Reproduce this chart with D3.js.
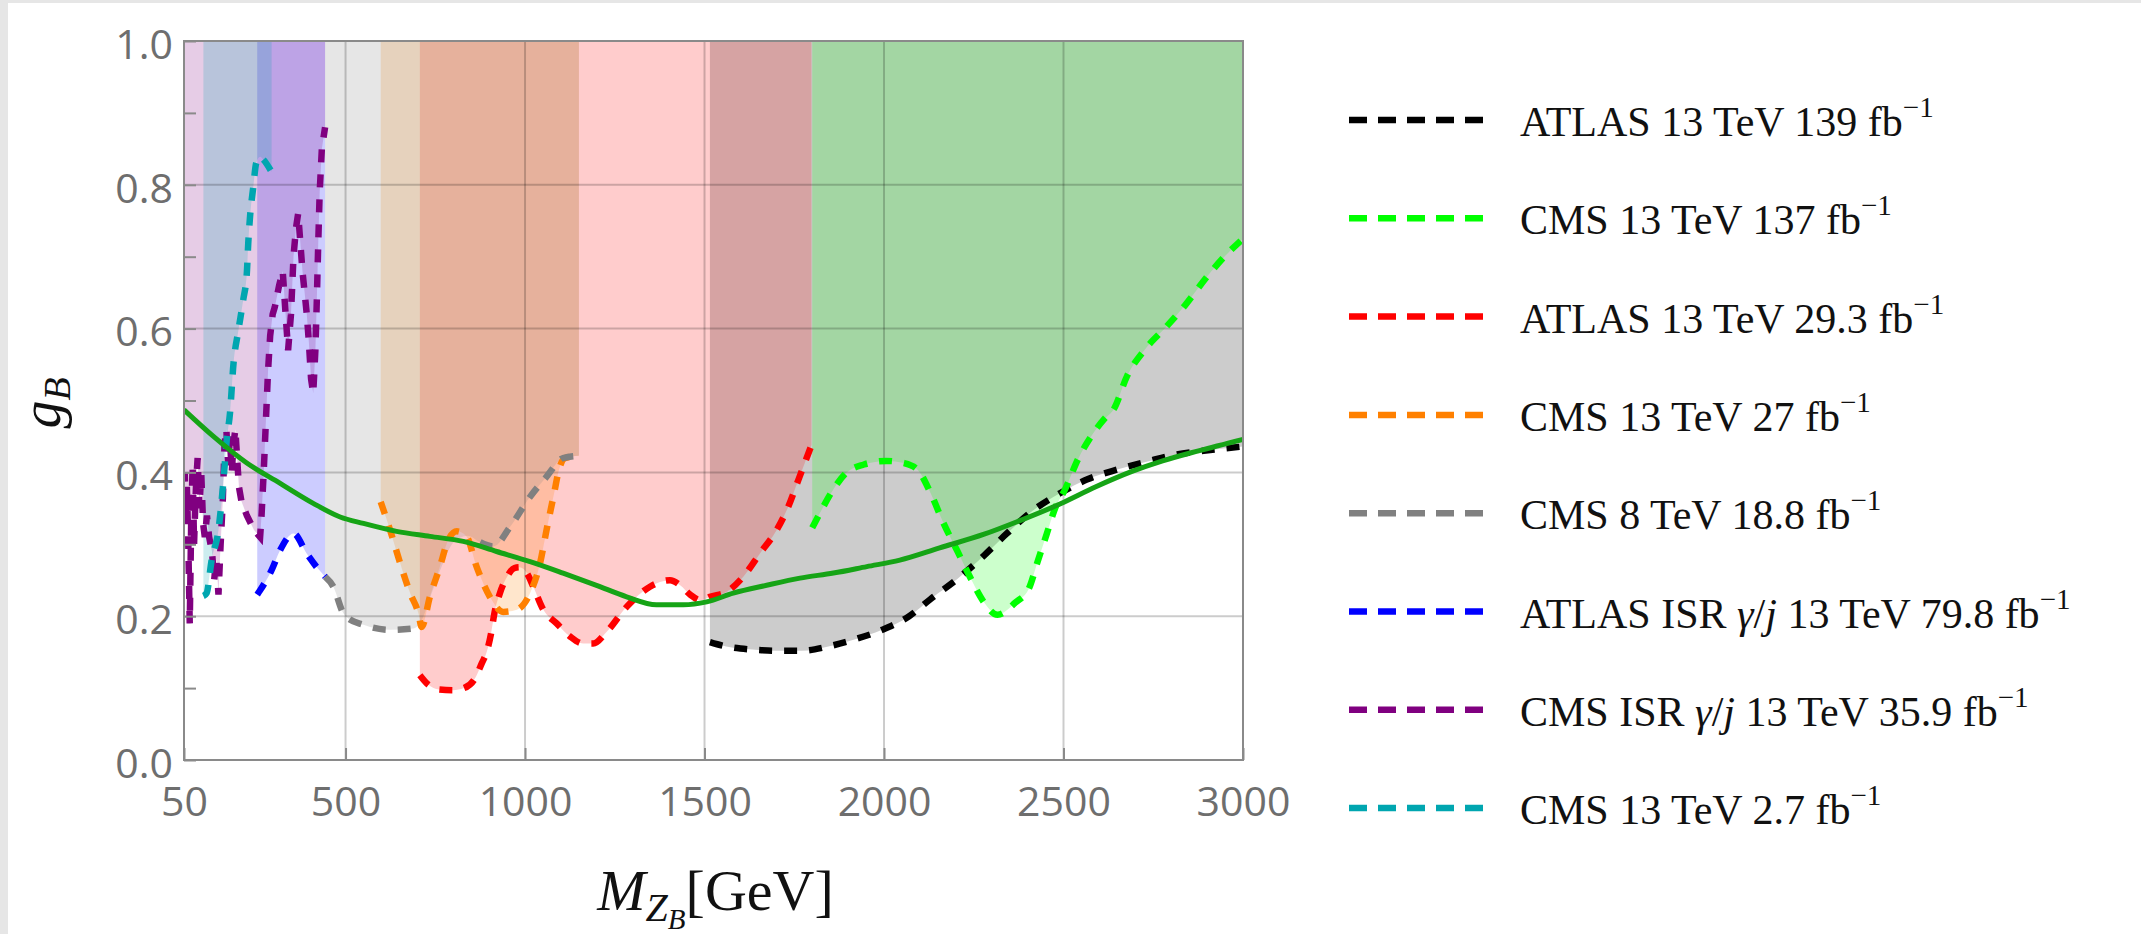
<!DOCTYPE html>
<html>
<head>
<meta charset="utf-8">
<script src="https://cdn.jsdelivr.net/npm/d3@7"></script>
<style>
  html, body { margin: 0; padding: 0; background: #ffffff; }
  svg { display: block; }
</style>
</head>
<body>
<svg id="chart" width="2141" height="934"></svg>
<script>
// ---- axis ticks ----
const massTicks = [50, 500, 1000, 1500, 2000, 2500, 3000];
const massGrid = [500, 1000, 1500, 2000, 2500];
const couplingTicks = [0.0, 0.2, 0.4, 0.6, 0.8, 1.0];
const couplingGrid = [0.2, 0.4, 0.6, 0.8];
const couplingMinorTicks = [0.1, 0.3, 0.5, 0.7, 0.9];

// ---- exclusion limits: mass M_ZB [GeV] and coupling g_B ----
const atlas139Mass = [1515, 1560, 1600, 1650, 1700, 1770, 1845, 1920, 1995, 2070, 2130, 2205, 2280, 2340, 2415, 2490, 2565, 2650, 2740, 2815, 2890, 3000];
const atlas139G    = [0.164, 0.158, 0.155, 0.153, 0.152, 0.152, 0.158, 0.168, 0.181, 0.200, 0.224, 0.252, 0.285, 0.314, 0.347, 0.371, 0.390, 0.404, 0.416, 0.425, 0.430, 0.436];

const cms137Mass = [1800, 1820, 1857, 1894, 1944, 2006, 2056, 2093, 2130, 2167, 2205, 2242, 2279, 2316, 2366, 2403, 2428, 2453, 2478, 2503, 2540, 2578, 2615, 2640, 2677, 2727, 2789, 2838, 2901, 2950, 3000];
const cms137G    = [0.323, 0.342, 0.375, 0.399, 0.411, 0.416, 0.413, 0.404, 0.371, 0.328, 0.290, 0.252, 0.219, 0.202, 0.219, 0.238, 0.276, 0.314, 0.352, 0.375, 0.418, 0.451, 0.475, 0.488, 0.534, 0.571, 0.604, 0.632, 0.673, 0.701, 0.725];

const atlas29Mass = [707, 730, 760, 800, 830, 860, 880, 893, 905, 915, 930, 950, 970, 985, 1005, 1023, 1051, 1088, 1125, 1162, 1190, 1227, 1283, 1348, 1404, 1432, 1460, 1490, 1515, 1562, 1608, 1654, 1701, 1733, 1761, 1798];
const atlas29G    = [0.118, 0.105, 0.098, 0.097, 0.100, 0.113, 0.135, 0.150, 0.175, 0.205, 0.232, 0.255, 0.267, 0.268, 0.260, 0.241, 0.209, 0.190, 0.172, 0.162, 0.162, 0.178, 0.213, 0.241, 0.250, 0.243, 0.230, 0.222, 0.227, 0.234, 0.255, 0.287, 0.320, 0.352, 0.389, 0.438];

const cms27Mass = [598, 624, 652, 680, 703, 712, 735, 763, 786, 810, 837, 865, 902, 939, 977, 1014, 1042, 1060, 1079, 1097, 1111, 1150];
const cms27G    = [0.359, 0.320, 0.274, 0.232, 0.204, 0.185, 0.227, 0.269, 0.306, 0.318, 0.311, 0.269, 0.227, 0.206, 0.209, 0.232, 0.274, 0.320, 0.366, 0.408, 0.420, 0.423];

const cms8Mass = [443, 466, 494, 503, 550, 624, 689, 707, 740, 770, 800, 840, 875, 912, 958, 1014, 1060, 1106, 1150];
const cms8G    = [0.255, 0.241, 0.204, 0.199, 0.188, 0.181, 0.183, 0.190, 0.232, 0.272, 0.302, 0.312, 0.303, 0.297, 0.324, 0.366, 0.394, 0.420, 0.423];
// stretch of the 8 TeV limit that runs underneath the 13 TeV 27 fb^-1 curve is not stroked
const cms8Stroked  = [true, true, true, true, true, true, true, true, false, false, false, false, true, true, true, true, true, true, true];

const atlasIsrMass = [254, 262, 294, 318, 355, 392, 420, 443];
const atlasIsrG    = [0.230, 0.236, 0.264, 0.292, 0.315, 0.287, 0.268, 0.255];

const cmsIsrMass = [50, 52, 55, 58, 62, 66, 70, 74, 78, 83, 88, 93, 98, 103, 108, 114, 120, 128, 134, 140, 146, 152, 158, 163, 168, 173, 178, 183, 188, 193, 198, 203, 210, 225, 245, 262,
                    266, 272, 278, 284, 290, 297, 303, 315, 325, 333, 340, 348, 355, 362, 368, 374, 380, 386, 392, 398, 404, 410, 416, 420, 424, 428, 434, 443];
const cmsIsrG    = [0.36, 0.40, 0.34, 0.38, 0.30, 0.19, 0.33, 0.41, 0.30, 0.38, 0.42, 0.35, 0.40, 0.33, 0.31, 0.34, 0.31, 0.29, 0.25, 0.28, 0.23, 0.30, 0.36, 0.44, 0.46, 0.41, 0.45, 0.40, 0.44, 0.46, 0.42, 0.38, 0.36, 0.34, 0.32, 0.31,
                    0.34, 0.40, 0.47, 0.54, 0.59, 0.62, 0.63, 0.66, 0.68, 0.62, 0.57, 0.62, 0.70, 0.74, 0.76, 0.72, 0.68, 0.65, 0.62, 0.58, 0.53, 0.51, 0.57, 0.64, 0.72, 0.79, 0.85, 0.88];

const cms27fbMass = [104, 113, 127, 146, 160, 169, 178, 188, 201, 215, 225, 229, 234, 243, 251, 262, 271, 294];
const cms27fbG    = [0.228, 0.232, 0.278, 0.320, 0.389, 0.445, 0.482, 0.552, 0.596, 0.640, 0.677, 0.719, 0.756, 0.797, 0.830, 0.839, 0.835, 0.818];

// theory curve (solid)
const theoryMass = [50, 132, 225, 317, 410, 485, 550, 642, 735, 828, 921, 1014, 1106, 1199, 1283, 1366, 1441, 1506, 1580, 1673, 1766, 1859, 1952, 2044, 2155, 2279, 2379, 2490, 2590, 2689, 2776, 2876, 3000];
const theoryG    = [0.487, 0.450, 0.413, 0.385, 0.357, 0.338, 0.329, 0.318, 0.311, 0.304, 0.290, 0.276, 0.260, 0.243, 0.227, 0.216, 0.216, 0.220, 0.232, 0.243, 0.253, 0.260, 0.269, 0.278, 0.295, 0.314, 0.333, 0.356, 0.380, 0.401, 0.416, 0.430, 0.446];

// ---- legend ----
const legendNames = [
  "ATLAS 13 TeV 139 fb",
  "CMS 13 TeV 137 fb",
  "ATLAS 13 TeV 29.3 fb",
  "CMS 13 TeV 27 fb",
  "CMS 8 TeV 18.8 fb",
  "ATLAS ISR \u03B3/j 13 TeV 79.8 fb",
  "CMS ISR \u03B3/j 13 TeV 35.9 fb",
  "CMS 13 TeV 2.7 fb"
];
const seriesColors = ["#000000", "#00ff00", "#ff0000", "#ff8000", "#808080", "#0000ff", "#800080", "#00a6b0"];

const seriesMass = [atlas139Mass, cms137Mass, atlas29Mass, cms27Mass, cms8Mass, atlasIsrMass, cmsIsrMass, cms27fbMass];
const seriesG    = [atlas139G, cms137G, atlas29G, cms27G, cms8G, atlasIsrG, cmsIsrG, cms27fbG];
const seriesStroked = [null, null, null, null, cms8Stroked, null, null, null];
const jagged     = [false, false, false, false, false, false, true, false];

const series = legendNames.map((name, i) => ({
  name,
  color: seriesColors[i],
  points: seriesMass[i].map((m, k) => [m, seriesG[i][k], seriesStroked[i] ? seriesStroked[i][k] : true]),
  curve: jagged[i] ? d3.curveLinear : d3.curveMonotoneX
}));

// ---- layout ----
const svg = d3.select("#chart");
const plot = { left: 184, right: 1243, top: 41, bottom: 760 };

const x = d3.scaleLinear().domain([50, 3000]).range([plot.left, plot.right]);
const y = d3.scaleLinear().domain([0, 1]).range([plot.bottom, plot.top]);

// page edge strips
svg.append("rect").attr("x", 0).attr("y", 0).attr("width", 2141).attr("height", 3).attr("fill", "#e6e6e6");
svg.append("rect").attr("x", 0).attr("y", 0).attr("width", 8).attr("height", 934).attr("fill", "#e6e6e6");

svg.append("defs").append("clipPath").attr("id", "plotClip")
  .append("rect")
  .attr("x", plot.left).attr("y", plot.top)
  .attr("width", plot.right - plot.left).attr("height", plot.bottom - plot.top);

const inner = svg.append("g").attr("clip-path", "url(#plotClip)");

// excluded regions: from each limit up to the top of the frame
const fills = inner.append("g");
series.forEach(s => {
  const area = d3.area()
    .x(d => x(d[0]))
    .y0(y(1))
    .y1(d => y(d[1]))
    .curve(s.curve);
  fills.append("path")
    .attr("d", area(s.points))
    .attr("fill", s.color)
    .attr("fill-opacity", 0.2);
});

// grid
const grid = inner.append("g").attr("stroke", "rgba(0,0,0,0.2)").attr("stroke-width", 2);
massGrid.forEach(m => grid.append("line")
  .attr("x1", x(m)).attr("x2", x(m)).attr("y1", plot.top).attr("y2", plot.bottom));
couplingGrid.forEach(g => grid.append("line")
  .attr("x1", plot.left).attr("x2", plot.right).attr("y1", y(g)).attr("y2", y(g)));

// limit curves
const lines = inner.append("g").attr("fill", "none");
series.forEach(s => {
  const line = d3.line()
    .defined((d, i, arr) => d[2] || (arr[i - 1] && arr[i - 1][2] && false))
    .x(d => x(d[0])).y(d => y(d[1])).curve(s.curve);
  lines.append("path")
    .attr("d", line(s.points))
    .attr("stroke", s.color)
    .attr("stroke-width", 6.5)
    .attr("stroke-dasharray", "13,12");
});

// theory curve
const theoryLine = d3.line().x(d => x(d[0])).y(d => y(d[1])).curve(d3.curveMonotoneX);
inner.append("path")
  .attr("d", theoryLine(theoryMass.map((m, i) => [m, theoryG[i]])))
  .attr("fill", "none")
  .attr("stroke", "#16a416")
  .attr("stroke-width", 5);

// frame
const frameColor = "#8a8a8a";
svg.append("rect")
  .attr("x", plot.left).attr("y", plot.top)
  .attr("width", plot.right - plot.left).attr("height", plot.bottom - plot.top)
  .attr("fill", "none").attr("stroke", frameColor).attr("stroke-width", 2);

const tickFont = "'Open Sans', 'DejaVu Sans', sans-serif";

// y axis
const yAxis = d3.axisLeft(y)
  .tickValues(couplingTicks)
  .tickFormat(d3.format(".1f"))
  .tickSizeInner(-12).tickSizeOuter(0).tickPadding(11);
const yG = svg.append("g").attr("transform", `translate(${plot.left},0)`).call(yAxis);
yG.select(".domain").remove();
yG.selectAll(".tick line").attr("stroke", frameColor).attr("stroke-width", 2);
yG.selectAll(".tick text")
  .attr("font-family", tickFont).attr("font-size", 41).attr("fill", "#6e6e6e").attr("dy", "0.42em");

const yMinor = d3.axisLeft(y).tickValues(couplingMinorTicks).tickFormat("").tickSizeInner(-12).tickSizeOuter(0);
const yMG = svg.append("g").attr("transform", `translate(${plot.left},0)`).call(yMinor);
yMG.select(".domain").remove();
yMG.selectAll(".tick line").attr("stroke", frameColor).attr("stroke-width", 2);

// x axis
const xAxis = d3.axisBottom(x)
  .tickValues(massTicks)
  .tickFormat(d3.format("d"))
  .tickSizeInner(-12).tickSizeOuter(0).tickPadding(27);
const xG = svg.append("g").attr("transform", `translate(0,${plot.bottom})`).call(xAxis);
xG.select(".domain").remove();
xG.selectAll(".tick line").attr("stroke", frameColor).attr("stroke-width", 2);
xG.selectAll(".tick text")
  .attr("font-family", tickFont).attr("font-size", 41).attr("fill", "#6e6e6e");

// axis titles
const serif = "'Liberation Serif', 'DejaVu Serif', serif";
const xTitle = svg.append("text")
  .attr("x", (plot.left + plot.right) / 2 + 2).attr("y", 910)
  .attr("text-anchor", "middle")
  .attr("font-family", serif).attr("font-size", 58).attr("fill", "#111");
xTitle.append("tspan").attr("font-style", "italic").text("M");
xTitle.append("tspan").attr("font-style", "italic").attr("font-size", 40).attr("dy", 11).text("Z");
xTitle.append("tspan").attr("font-style", "italic").attr("font-size", 29).attr("dy", 8).text("B");
xTitle.append("tspan").attr("dy", -19).attr("font-size", 58).text("[GeV]");

const yTitle = svg.append("text")
  .attr("transform", `translate(60,403) rotate(-90)`)
  .attr("text-anchor", "middle")
  .attr("font-family", serif).attr("font-size", 56).attr("fill", "#111");
yTitle.append("tspan").attr("font-style", "italic").text("g");
yTitle.append("tspan").attr("font-style", "italic").attr("font-size", 38).attr("dy", 10).text("B");

// legend
const legend = svg.append("g");
series.forEach((s, i) => {
  const ry = 120 + i * 98.3;
  legend.append("line")
    .attr("x1", 1349).attr("x2", 1483).attr("y1", ry).attr("y2", ry)
    .attr("stroke", s.color).attr("stroke-width", 6.5)
    .attr("stroke-dasharray", "18,11");
  const t = legend.append("text")
    .attr("x", 1520).attr("y", ry + 16)
    .attr("font-family", serif).attr("font-size", 42).attr("fill", "#111");
  // split around the math part so γ and j are set in italic
  const parts = s.name.split(/(\u03B3|j)/);
  parts.forEach(p => {
    if (p === "") return;
    const ts = t.append("tspan").text(p);
    if (p === "\u03B3" || p === "j") ts.attr("font-style", "italic");
  });
  t.append("tspan").attr("font-size", 29).attr("dy", -19).text("\u22121");
});
</script>
</body>
</html>
